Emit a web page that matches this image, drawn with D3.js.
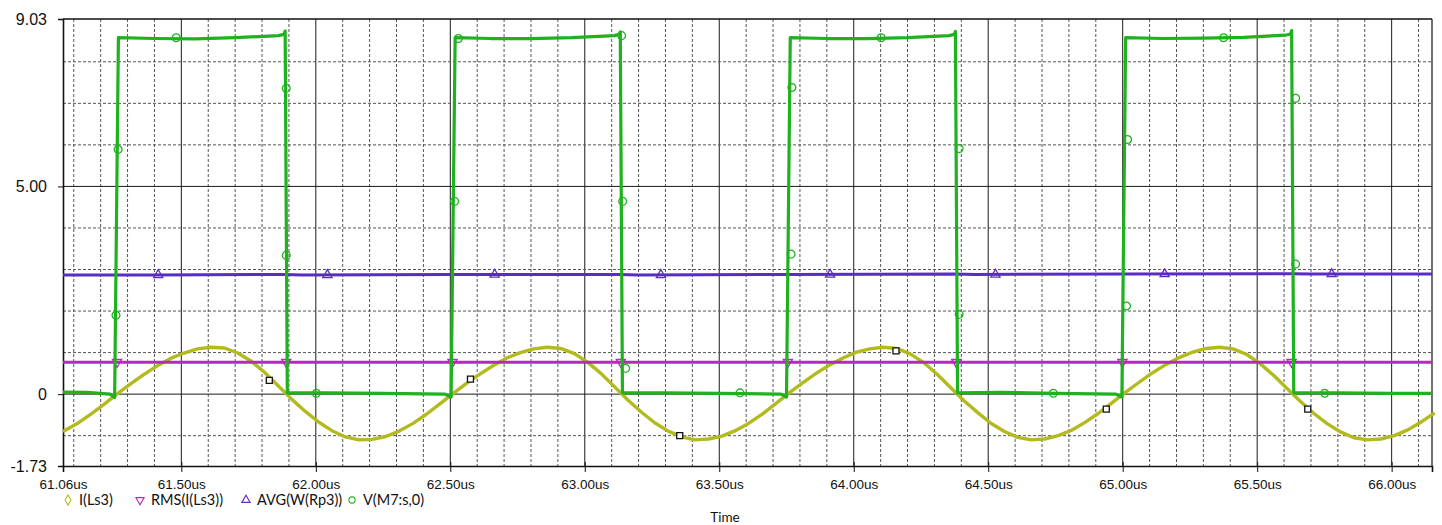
<!DOCTYPE html>
<html>
<head>
<meta charset="utf-8">
<script src="https://cdn.jsdelivr.net/npm/d3@7"></script>
<style>
  body { margin: 0; background: #fff; }
  svg { display: block; font-family: Lato, "Open Sans", sans-serif; }
  .tick text { fill: #111; }
</style>
</head>
<body>
<script>
/** Declare constants */
const width = 1442;
const height = 525;
const margin = { left: 63, right: 10, top: 19, bottom: 59 };
const colors = { iLs3: "#b3ba1d", rms: "#b52ab8", avg: "#5a2cc6", vM7: "#1fb21f" };

// axis labels
const xTicks = [61.06, 61.5, 62.0, 62.5, 63.0, 63.5, 64.0, 64.5, 65.0, 65.5, 66.0];
const xTickLabels = ["61.06us", "61.50us", "62.00us", "62.50us", "63.00us", "63.50us", "64.00us", "64.50us", "65.00us", "65.50us", "66.00us"];
const yTicks = [-1.73, 0, 5, 9.03];
const yTickLabels = ["-1.73", "0", "5.00", "9.03"];
const legendNames = ["I(Ls3)", "RMS(I(Ls3))", "AVG(W(Rp3))", "V(M7:s,0)"];

// V(M7:s,0) : [time us, volts]
const vM7 = [
    [61.06, 0.05], [61.15, 0.04], [61.235, 0.0], [61.252, -0.08], [61.266, 8.58], [61.40, 8.56], [61.55, 8.55], [61.70, 8.58], [61.86, 8.63], [61.882, 8.66], [61.886, 8.74], [61.894, 0.03],
    [62.05, 0.03], [62.25, 0.02], [62.48, 0.0], [62.503, -0.07], [62.518, 8.58], [62.65, 8.56], [62.80, 8.56], [62.95, 8.58], [63.11, 8.63], [63.128, 8.66], [63.132, 8.72], [63.140, 0.03],
    [63.30, 0.03], [63.50, 0.02], [63.73, 0.0], [63.750, -0.07], [63.764, 8.58], [63.90, 8.56], [64.05, 8.56], [64.20, 8.58], [64.355, 8.63], [64.374, 8.66], [64.378, 8.73], [64.386, 0.03],
    [64.55, 0.04], [64.75, 0.02], [64.975, 0.0], [64.997, -0.07], [65.011, 8.58], [65.15, 8.56], [65.30, 8.57], [65.45, 8.59], [65.605, 8.64], [65.624, 8.67], [65.628, 8.75], [65.636, 0.03],
    [65.80, 0.03], [66.00, 0.02], [66.15, 0.02]
];
const vM7Markers = [
    [61.265, 5.89], [61.257, 1.90], [61.481, 8.58], [61.890, 7.36], [61.890, 3.34], [62.002, 0.02],
    [62.516, 4.64], [62.53, 8.56], [63.137, 8.63], [63.141, 4.64], [63.152, 0.62], [63.577, 0.03],
    [63.770, 7.38], [63.767, 3.37], [64.102, 8.58], [64.392, 5.91], [64.392, 1.92], [64.742, 0.02],
    [65.018, 6.13], [65.014, 2.12], [65.375, 8.58], [65.643, 7.12], [65.643, 3.13], [65.751, 0.02]
];

// I(Ls3) : [time us, amps]
const iLs3 = [
    [61.06, -0.90], [61.11, -0.72], [61.16, -0.50], [61.21, -0.26], [61.26, 0.00], [61.31, 0.24], [61.36, 0.47], [61.41, 0.68], [61.46, 0.86], [61.51, 0.99],
    [61.56, 1.09], [61.61, 1.13], [61.66, 1.11], [61.71, 0.99], [61.76, 0.79], [61.81, 0.52], [61.86, 0.20], [61.91, -0.12], [61.96, -0.41], [62.01, -0.67],
    [62.06, -0.88], [62.11, -1.03], [62.16, -1.10], [62.21, -1.09], [62.26, -1.02], [62.31, -0.89], [62.36, -0.71], [62.41, -0.49], [62.46, -0.24], [62.51, 0.01],
    [62.56, 0.26], [62.61, 0.48], [62.66, 0.69], [62.71, 0.87], [62.76, 1.00], [62.81, 1.09], [62.86, 1.13], [62.91, 1.10], [62.96, 0.98], [63.01, 0.77],
    [63.06, 0.50], [63.11, 0.18], [63.16, -0.14], [63.21, -0.43], [63.26, -0.69], [63.31, -0.89], [63.36, -1.03], [63.41, -1.10], [63.46, -1.08], [63.51, -1.01],
    [63.56, -0.88], [63.61, -0.70], [63.66, -0.48], [63.71, -0.23], [63.76, 0.03], [63.81, 0.27], [63.86, 0.50], [63.91, 0.70], [63.96, 0.87], [64.01, 1.01],
    [64.06, 1.09], [64.11, 1.13], [64.16, 1.10], [64.21, 0.97], [64.26, 0.76], [64.31, 0.48], [64.36, 0.16], [64.41, -0.16], [64.46, -0.44], [64.51, -0.70],
    [64.56, -0.90], [64.61, -1.04], [64.66, -1.10], [64.71, -1.08], [64.76, -1.00], [64.81, -0.87], [64.86, -0.68], [64.91, -0.46], [64.96, -0.21], [65.01, 0.04],
    [65.06, 0.28], [65.11, 0.51], [65.16, 0.71], [65.21, 0.88], [65.26, 1.01], [65.31, 1.10], [65.36, 1.13], [65.41, 1.09], [65.46, 0.96], [65.51, 0.74],
    [65.56, 0.46], [65.61, 0.14], [65.66, -0.17], [65.71, -0.46], [65.76, -0.71], [65.81, -0.91], [65.86, -1.05], [65.91, -1.10], [65.96, -1.08], [66.01, -1.00],
    [66.06, -0.86], [66.11, -0.67], [66.16, -0.45]
];
const iLs3Markers = [[61.827, 0.33], [62.575, 0.36], [63.353, -1.00], [64.157, 1.04], [64.939, -0.36], [65.688, -0.36]];

// RMS(I(Ls3))
const rms = [[61.06, 0.77], [62.50, 0.77], [64.00, 0.77], [65.50, 0.77], [66.15, 0.77]];
const rmsMarkers = [[61.261, 0.77], [61.890, 0.77], [62.508, 0.77], [63.134, 0.77], [63.755, 0.77], [64.381, 0.77], [64.999, 0.77], [65.628, 0.77]];

// AVG(W(Rp3))
const avg = [[61.06, 2.87], [61.40, 2.87], [61.88, 2.88], [61.95, 2.87], [62.50, 2.88], [63.13, 2.88], [63.20, 2.87], [63.75, 2.88],
    [64.38, 2.89], [64.45, 2.88], [65.00, 2.89], [65.63, 2.90], [65.70, 2.89], [66.15, 2.89]];
const avgMarkers = [[61.414, 2.87], [62.043, 2.87], [62.665, 2.88], [63.283, 2.87], [63.912, 2.88], [64.527, 2.88], [65.156, 2.89], [65.777, 2.89]];

/** Declare variables */
var svg;
var x_scale, y_scale;

function generateScale() {
    x_scale = d3.scaleLinear()
        .domain([61.06, 66.15])
        .range([margin.left, width - margin.right]);
    y_scale = d3.scaleLinear()
        .domain([-1.73, 9.03])
        .range([height - margin.bottom, margin.top]);
}

function generateGrid() {
    const top = margin.top, bottom = height - margin.bottom;
    const left = margin.left, right = width - margin.right;

    // every 0.1us dashed, every 0.5us solid
    const xGrid = d3.range(611, 662).map((d) => d / 10);
    svg.append("g").selectAll("line")
        .data(xGrid)
        .enter()
        .append("line")
        .attr("x1", (d) => x_scale(d)).attr("x2", (d) => x_scale(d))
        .attr("y1", top).attr("y2", bottom)
        .attr("stroke", (d) => Math.round(d * 10) % 5 === 0 ? "#1a1a1a" : "#555")
        .attr("stroke-width", 1)
        .attr("stroke-dasharray", (d) => Math.round(d * 10) % 5 === 0 ? null : "3,2");

    const yGrid = [-1, 0, 1, 2, 3, 4, 5, 6, 7, 8];
    svg.append("g").selectAll("line")
        .data(yGrid)
        .enter()
        .append("line")
        .attr("x1", left).attr("x2", right)
        .attr("y1", (d) => y_scale(d)).attr("y2", (d) => y_scale(d))
        .attr("stroke", (d) => d % 5 === 0 ? "#1a1a1a" : "#555")
        .attr("stroke-width", 1)
        .attr("stroke-dasharray", (d) => d % 5 === 0 ? null : "3,2");

    // frame
    svg.append("line").attr("x1", left).attr("x2", right).attr("y1", top).attr("y2", top)
        .attr("stroke", "#111").attr("stroke-width", 1.5);
    svg.append("line").attr("x1", right).attr("x2", right).attr("y1", top).attr("y2", bottom)
        .attr("stroke", "#111").attr("stroke-width", 1.2);
}

function generateAxis() {
    const x_axis = d3.axisBottom(x_scale)
        .tickValues(xTicks)
        .tickSize(6)
        .tickFormat((d, i) => xTickLabels[i]);
    const y_axis = d3.axisLeft(y_scale)
        .tickValues(yTicks)
        .tickSize(5)
        .tickFormat((d, i) => yTickLabels[i]);

    const gx = svg.append("g")
        .attr("transform", "translate(0, " + (height - margin.bottom) + ")")
        .call(x_axis);
    gx.select(".domain").attr("stroke", "#111").attr("stroke-width", 1.6);
    gx.selectAll(".tick line").attr("stroke", "#111").attr("y1", -4);
    gx.selectAll(".tick text").attr("font-size", 13.5).attr("dy", "1.05em");

    const gy = svg.append("g")
        .attr("transform", "translate(" + margin.left + ", 0)")
        .call(y_axis);
    gy.select(".domain").attr("stroke", "#111").attr("stroke-width", 1.6);
    gy.selectAll(".tick line").attr("stroke", "#111");
    gy.selectAll(".tick text").attr("font-size", 16).attr("x", -16);

    svg.append("text")
        .attr("x", 725)
        .attr("y", 522)
        .attr("text-anchor", "middle")
        .attr("font-size", 13.5)
        .attr("fill", "#111")
        .text("Time");
}

function drawTrace(data, color, widthPx) {
    const line = d3.line()
        .x((d) => x_scale(d[0]))
        .y((d) => y_scale(d[1]));
    svg.append("path")
        .datum(data)
        .attr("fill", "none")
        .attr("stroke", color)
        .attr("stroke-width", widthPx)
        .attr("stroke-linejoin", "round")
        .attr("d", line);
}

function drawMarkers(data, type, color, size, rotate, fill) {
    svg.append("g").selectAll("path")
        .data(data)
        .enter()
        .append("path")
        .attr("transform", (d) => "translate(" + x_scale(d[0]) + "," + y_scale(d[1]) + ") rotate(" + rotate + ")")
        .attr("d", d3.symbol().type(type).size(size))
        .attr("fill", fill)
        .attr("stroke", color)
        .attr("stroke-width", 1.3);
}

function generateLines() {
    drawTrace(iLs3, colors.iLs3, 3.4);
    drawMarkers(iLs3Markers, d3.symbolSquare, "#111", 36, 0, "#fff");

    drawTrace(rms, colors.rms, 3);
    drawMarkers(rmsMarkers, d3.symbolTriangle, colors.rms, 36, 180, "none");

    drawTrace(avg, colors.avg, 3);
    drawMarkers(avgMarkers, d3.symbolTriangle, colors.avg, 36, 0, "none");

    drawTrace(vM7, colors.vM7, 3.2);
    drawMarkers(vM7Markers, d3.symbolCircle, colors.vM7, 48, 0, "none");
}

function generateLegend() {
    const symbols = [d3.symbolDiamond, d3.symbolTriangle, d3.symbolTriangle, d3.symbolCircle];
    const rot = [0, 180, 0, 0];
    const cols = [colors.iLs3, colors.rms, colors.avg, colors.vM7];
    const symX = [68, 140, 246, 352];
    const y = 500;
    legendNames.forEach((name, i) => {
        svg.append("path")
            .attr("transform", "translate(" + symX[i] + "," + y + ") rotate(" + rot[i] + ")")
            .attr("d", d3.symbol().type(symbols[i]).size(30))
            .attr("fill", "none")
            .attr("stroke", cols[i])
            .attr("stroke-width", 1.1);
        svg.append("text")
            .attr("x", symX[i] + 11)
            .attr("y", y + 5)
            .attr("font-size", 14.5)
            .attr("fill", "#111")
            .text(name);
    });
}

document.addEventListener("DOMContentLoaded", function () {
    svg = d3.select("body")
        .append("svg")
        .attr("width", width)
        .attr("height", height);
    generateScale();
    generateGrid();
    generateAxis();
    generateLines();
    generateLegend();
});
</script>
</body>
</html>
